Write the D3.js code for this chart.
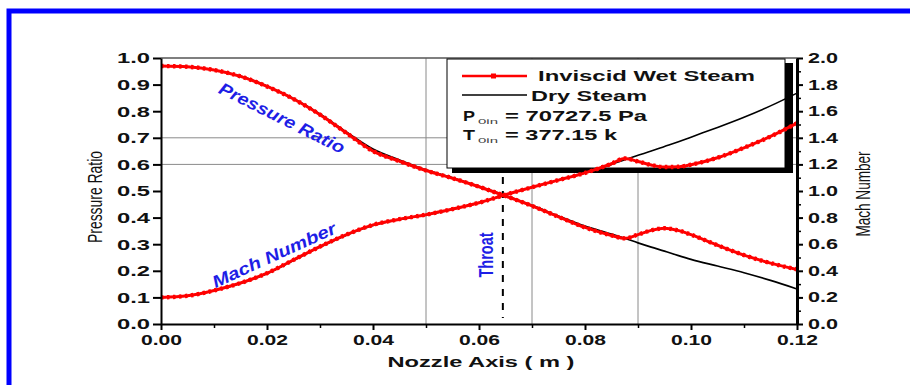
<!DOCTYPE html>
<html><head><meta charset="utf-8">
<script src="https://cdn.jsdelivr.net/npm/d3@7"></script>
<style>body{margin:0;background:#fff;} svg{display:block;}</style>
</head><body>
<svg id="chart" width="910" height="385"></svg>
<script>
// ---- data ----
const xs = [0, 0.005, 0.01, 0.015, 0.02, 0.025, 0.03, 0.035, 0.04, 0.045, 0.05, 0.055, 0.06, 0.065,
            0.07, 0.075, 0.08, 0.085, 0.0875, 0.09, 0.0925, 0.095, 0.0975, 0.10, 0.105, 0.11, 0.115, 0.12];
const pressureDry = [0.970, 0.967, 0.955, 0.932, 0.895, 0.848, 0.790, 0.722, 0.658, 0.617, 0.580, 0.550, 0.518, 0.483,
                     0.446, 0.406, 0.368, 0.338, 0.322, 0.305, 0.289, 0.274, 0.258, 0.243, 0.218, 0.193, 0.164, 0.132];
const pressureWet = [0.970, 0.967, 0.955, 0.931, 0.893, 0.846, 0.787, 0.718, 0.650, 0.612, 0.577, 0.548, 0.516, 0.481,
                     0.444, 0.403, 0.363, 0.333, 0.322, 0.336, 0.352, 0.360, 0.352, 0.336, 0.296, 0.259, 0.229, 0.205];
const machDry = [0.200, 0.212, 0.250, 0.305, 0.378, 0.478, 0.578, 0.668, 0.740, 0.785, 0.820, 0.862, 0.910, 0.970,
                 1.028, 1.082, 1.136, 1.200, 1.235, 1.268, 1.300, 1.334, 1.368, 1.405, 1.478, 1.555, 1.640, 1.736];
const machWet = [0.200, 0.212, 0.252, 0.308, 0.382, 0.482, 0.582, 0.672, 0.745, 0.788, 0.822, 0.864, 0.912, 0.972,
                 1.028, 1.082, 1.136, 1.205, 1.245, 1.222, 1.195, 1.180, 1.182, 1.198, 1.250, 1.325, 1.410, 1.510];
const xTicks = [0, 0.02, 0.04, 0.06, 0.08, 0.10, 0.12];
const xMinorTicks = [0.01, 0.03, 0.05, 0.07, 0.09, 0.11];
const leftTicks = [0, 0.1, 0.2, 0.3, 0.4, 0.5, 0.6, 0.7, 0.8, 0.9, 1.0];
const rightTicks = [0, 0.2, 0.4, 0.6, 0.8, 1.0, 1.2, 1.4, 1.6, 1.8, 2.0];
const rightMinorTicks = [0.1, 0.3, 0.5, 0.7, 0.9, 1.1, 1.3, 1.5, 1.7, 1.9];
const xGrid = [0.05, 0.07, 0.09];
const yGrid = [0.6, 0.7];
const throatX = 0.0645;
const legendLabels = ["Inviscid Wet Steam", "Dry Steam"];

// ---- layout ----
const svg = d3.select("#chart");
const L = 161, R = 797, T = 58, B = 324;
const x = d3.scaleLinear().domain([0, 0.12]).range([L, R]);
const yL = d3.scaleLinear().domain([0, 1]).range([B, T]);
const yR = d3.scaleLinear().domain([0, 2]).range([B, T]);
const FONT = "'Liberation Sans', Arial, sans-serif";
const NARROW = "'Liberation Sans Narrow', 'Arial Narrow', 'Liberation Sans', sans-serif";
const BLUE = "#1e1ee6";
const RED = "#ff0000";
function fit(sel, w) { sel.attr("textLength", w).attr("lengthAdjust", "spacingAndGlyphs"); }

svg.append("rect").attr("width", 910).attr("height", 385).attr("fill", "#fff");
svg.append("rect").attr("x", 9).attr("y", 11).attr("width", 1000).attr("height", 1000)
  .attr("fill", "none").attr("stroke", "#0000ff").attr("stroke-width", 5);

// grid
svg.append("g").selectAll("line").data(xGrid).join("line")
  .attr("x1", d => x(d)).attr("x2", d => x(d)).attr("y1", T).attr("y2", B)
  .attr("stroke", "#8a8a8a").attr("stroke-width", 1);
svg.append("g").selectAll("line").data(yGrid).join("line")
  .attr("x1", L).attr("x2", R).attr("y1", d => yL(d)).attr("y2", d => yL(d))
  .attr("stroke", "#8a8a8a").attr("stroke-width", 1);

// top frame line
svg.append("line").attr("x1", L).attr("x2", R).attr("y1", T).attr("y2", T)
  .attr("stroke", "#555").attr("stroke-width", 1.5);

// throat dashed line
svg.append("line").attr("x1", x(throatX)).attr("x2", x(throatX)).attr("y1", 177).attr("y2", 318)
  .attr("stroke", "#000").attr("stroke-width", 2).attr("stroke-dasharray", "7,7");

// legend box with shadow
svg.append("rect").attr("x", 452).attr("y", 63).attr("width", 341).attr("height", 110).attr("fill", "#000");
svg.append("rect").attr("x", 447).attr("y", 59).attr("width", 338).attr("height", 109)
  .attr("fill", "#fff").attr("stroke", "#000").attr("stroke-width", 1);

// curves
const pts = arr => xs.map((xv, i) => [xv, arr[i]]);
const lineL = d3.line().x(d => x(d[0])).y(d => yL(d[1])).curve(d3.curveMonotoneX);
const lineR = d3.line().x(d => x(d[0])).y(d => yR(d[1])).curve(d3.curveMonotoneX);
const curves = svg.append("g").attr("fill", "none");
curves.append("path").attr("d", lineL(pts(pressureDry))).attr("stroke", "#000").attr("stroke-width", 1.6);
curves.append("path").attr("d", lineR(pts(machDry))).attr("stroke", "#000").attr("stroke-width", 1.6);
[lineL(pts(pressureWet)), lineR(pts(machWet))].forEach(d => {
  curves.append("path").attr("d", d).attr("stroke", RED).attr("stroke-width", 3);
  curves.append("path").attr("d", d).attr("stroke", RED).attr("stroke-width", 4.4).attr("stroke-dasharray", "2.5,3.5");
});

// axes
const gx = svg.append("g").attr("transform", `translate(0,${B})`)
  .call(d3.axisBottom(x).tickValues(xTicks).tickSize(6).tickSizeOuter(0).tickFormat(d3.format(".2f")));
svg.append("g").attr("transform", `translate(0,${B})`)
  .call(d3.axisBottom(x).tickValues(xMinorTicks).tickSize(4).tickSizeOuter(0).tickFormat(""))
  .call(g => g.select(".domain").remove())
  .selectAll("line").attr("stroke-width", 1.5);
gx.select(".domain").attr("stroke-width", 2);
gx.selectAll(".tick line").attr("stroke-width", 2);
gx.selectAll("text").attr("y", 21).attr("dy", 0).attr("font-family", FONT).attr("font-weight", "bold")
  .attr("font-size", 14).attr("fill", "#111").call(fit, 41);

const gl = svg.append("g").attr("transform", `translate(${L},0)`)
  .call(d3.axisLeft(yL).tickValues(leftTicks).tickSize(8).tickPadding(3).tickSizeOuter(0).tickFormat(d3.format(".1f")));
gl.select(".domain").attr("stroke-width", 2);
gl.selectAll(".tick line").attr("stroke-width", 2);
gl.selectAll("text").attr("font-family", FONT).attr("font-weight", "bold").attr("font-size", 15)
  .attr("fill", "#111").call(fit, 33);

const gr = svg.append("g").attr("transform", `translate(${R},0)`)
  .call(d3.axisRight(yR).tickValues(rightTicks).tickSize(6).tickPadding(5).tickSizeOuter(0).tickFormat(d3.format(".1f")));
svg.append("g").attr("transform", `translate(${R},0)`)
  .call(d3.axisRight(yR).tickValues(rightMinorTicks).tickSize(4).tickSizeOuter(0).tickFormat(""))
  .call(g => g.select(".domain").remove())
  .selectAll("line").attr("stroke-width", 1.5);
gr.select(".domain").attr("stroke-width", 3);
gr.selectAll(".tick line").attr("stroke-width", 2);
gr.selectAll("text").attr("font-family", FONT).attr("font-weight", "bold").attr("font-size", 14)
  .attr("fill", "#111").call(fit, 30);

// axis titles
svg.append("text").attr("transform", "translate(481,367)").attr("text-anchor", "middle")
  .attr("font-family", FONT).attr("font-weight", "bold").attr("font-size", 15).attr("fill", "#111")
  .text("Nozzle Axis ( m )").call(fit, 187);
svg.append("text").attr("transform", "translate(102,197) rotate(-90)").attr("text-anchor", "middle")
  .attr("font-family", NARROW).attr("font-size", 20).attr("fill", "#111")
  .text("Pressure Ratio").call(fit, 92);
svg.append("text").attr("transform", "translate(870,194) rotate(-90)").attr("text-anchor", "middle")
  .attr("font-family", NARROW).attr("font-size", 20).attr("fill", "#111")
  .text("Mach Number").call(fit, 85);

// in-plot annotations
svg.append("text").attr("transform", "translate(282,118) rotate(26.5)").attr("text-anchor", "middle")
  .attr("dy", "0.35em").attr("font-family", FONT).attr("font-weight", "bold").attr("font-style", "italic")
  .attr("font-size", 17).attr("fill", BLUE).text("Pressure Ratio").call(fit, 138);
svg.append("text").attr("transform", "translate(274,255) rotate(-24.5)").attr("text-anchor", "middle")
  .attr("dy", "0.35em").attr("font-family", FONT).attr("font-weight", "bold").attr("font-style", "italic")
  .attr("font-size", 17).attr("fill", BLUE).text("Mach Number").call(fit, 134);
svg.append("text").attr("transform", "translate(493,255) rotate(-90)").attr("text-anchor", "middle")
  .attr("font-family", NARROW).attr("font-weight", "bold").attr("font-size", 20).attr("fill", BLUE)
  .text("Throat").call(fit, 45);

// legend content
const lg = svg.append("g").attr("font-family", FONT).attr("font-weight", "bold").attr("fill", "#111");
lg.append("line").attr("x1", 462).attr("x2", 527).attr("y1", 76).attr("y2", 76).attr("stroke", RED).attr("stroke-width", 2.6);
lg.append("rect").attr("x", 491).attr("y", 73.5).attr("width", 5).attr("height", 5).attr("fill", RED);
lg.append("line").attr("x1", 462).attr("x2", 527).attr("y1", 95).attr("y2", 95).attr("stroke", "#000").attr("stroke-width", 1.6);
lg.append("text").attr("x", 538).attr("y", 81).attr("font-size", 14).text(legendLabels[0]).call(fit, 217);
lg.append("text").attr("x", 531).attr("y", 101).attr("font-size", 14).text(legendLabels[1]).call(fit, 116);
lg.append("text").attr("x", 463).attr("y", 121).attr("font-size", 14).text("P").call(fit, 12);
lg.append("text").attr("x", 478).attr("y", 124).attr("font-size", 8).attr("font-weight", "normal").attr("fill", "#444").text("0in").call(fit, 20);
lg.append("text").attr("x", 505).attr("y", 121).attr("font-size", 14).text("= 70727.5 Pa").call(fit, 142);
lg.append("text").attr("x", 463).attr("y", 140).attr("font-size", 14).text("T").call(fit, 12);
lg.append("text").attr("x", 478).attr("y", 143).attr("font-size", 8).attr("font-weight", "normal").attr("fill", "#444").text("0in").call(fit, 20);
lg.append("text").attr("x", 505).attr("y", 140).attr("font-size", 14).text("= 377.15 k").call(fit, 112);
</script>
</body></html>
